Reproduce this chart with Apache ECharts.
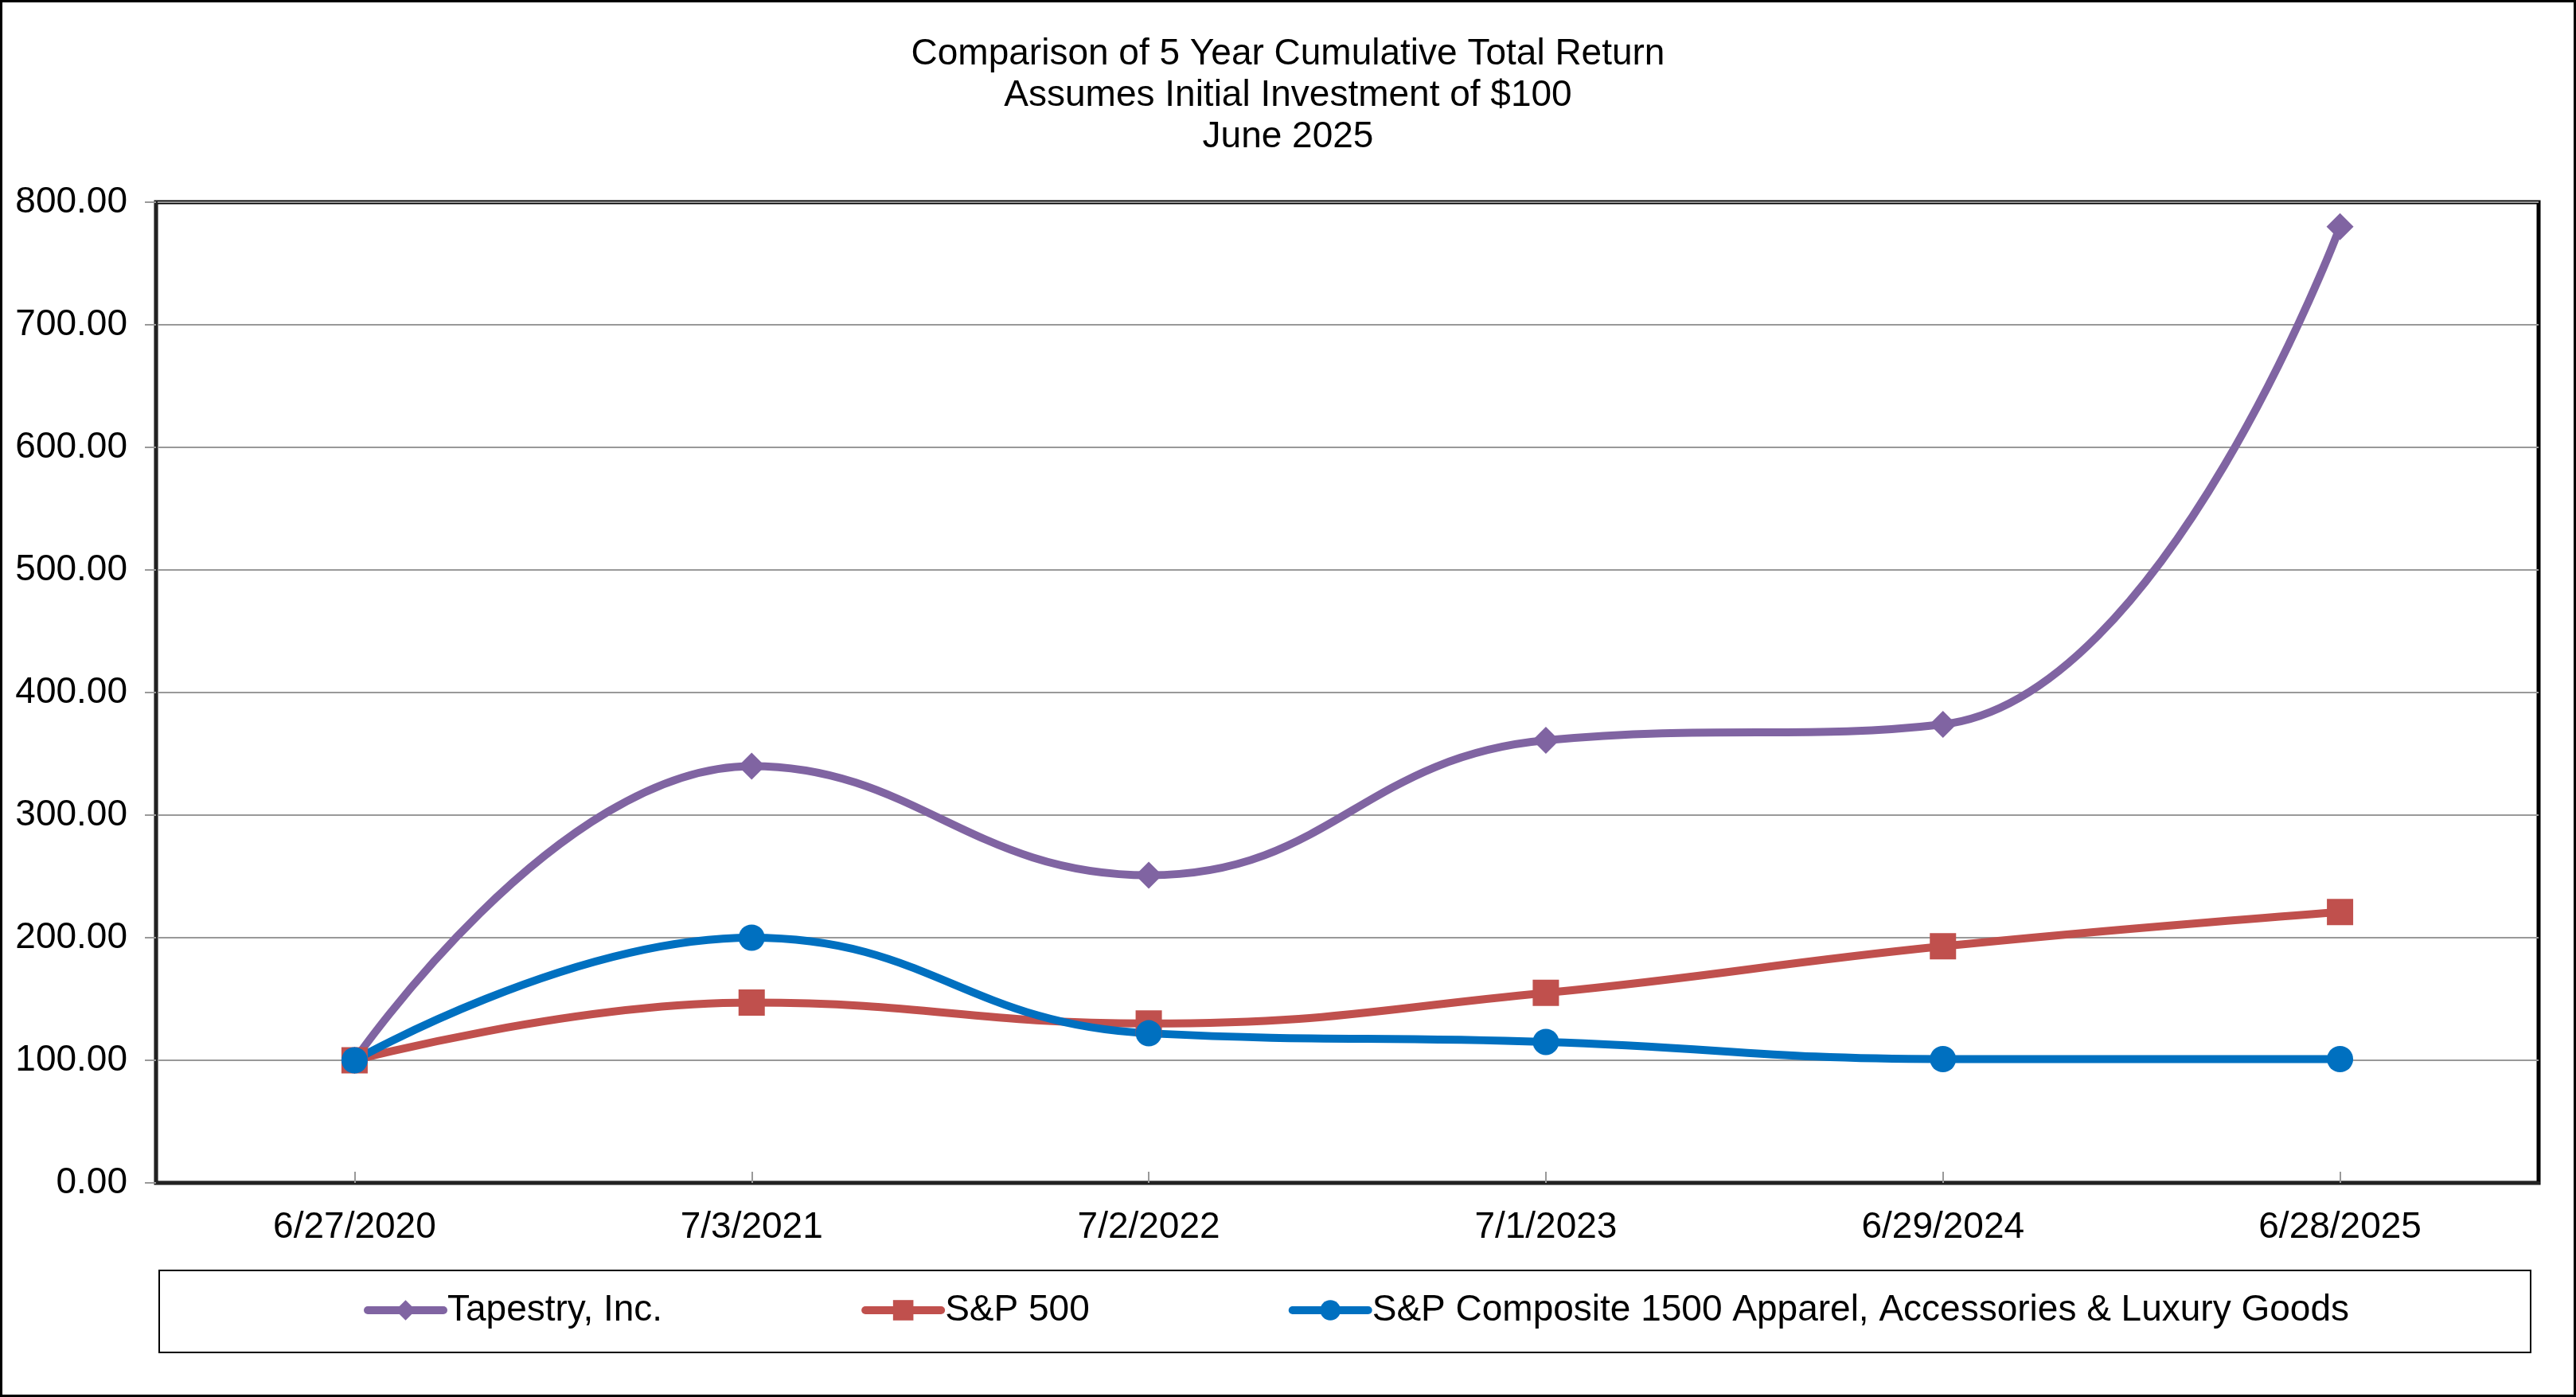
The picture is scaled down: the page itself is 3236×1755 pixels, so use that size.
<!DOCTYPE html>
<html>
<head>
<meta charset="utf-8">
<script src="https://cdn.jsdelivr.net/npm/echarts@6/dist/echarts.min.js"></script>
<style>
html,body{margin:0;padding:0;background:#fff;}
#c{width:3236px;height:1755px;}
</style>
</head>
<body>
<div id="c"></div>
<script>
const categories = ['6/27/2020', '7/3/2021', '7/2/2022', '7/1/2023', '6/29/2024', '6/28/2025'];
const tapestry = [100, 340, 251, 361, 374, 780];
const sp500 = [100, 147, 130, 155, 193, 221];
const apparel = [100, 200, 122, 115, 101, 101];
const seriesNames = ['Tapestry, Inc.', 'S&P 500', 'S&P Composite 1500 Apparel, Accessories & Luxury Goods'];
const titleLines = ['Comparison of 5 Year Cumulative Total Return', 'Assumes Initial Investment of $100', 'June 2025'];

const FONT = 'Liberation Sans, Arial, sans-serif';
const chart = echarts.init(document.getElementById('c'), null, {renderer: 'canvas'});

function lineSeries(name, data, color, symbol, size) {
  return {
    name: name, type: 'line', data: data, smooth: 0.45,
    symbol: symbol, symbolSize: size,
    lineStyle: {color: color, width: 10},
    itemStyle: {color: color},
    emphasis: {disabled: true},
    z: 3
  };
}

chart.setOption({
  animation: false,
  backgroundColor: '#fff',
  title: {
    text: titleLines.join('\n'),
    left: 'center', top: 37,
    textStyle: {fontFamily: FONT, fontSize: 46, fontWeight: 'normal', color: '#000', lineHeight: 52}
  },
  graphic: [
    {type: 'rect', shape: {x: 1.5, y: 1.5, width: 3233, height: 1752}, style: {fill: 'none', stroke: '#000', lineWidth: 3}, silent: true},
    {type: 'rect', shape: {x: 200, y: 1596, width: 2979, height: 103}, style: {fill: 'none', stroke: '#000', lineWidth: 2}, silent: true}
  ],
  legend: {
    left: 452, top: 1618,
    itemGap: 250, itemWidth: 95, itemHeight: 32,
    lineStyle: {width: 10, cap: 'round'},
    textStyle: {fontFamily: FONT, fontSize: 46, color: '#000'},
    data: seriesNames
  },
  grid: {
    left: 196, right: 47, top: 254, bottom: 269,
    show: true, borderColor: '#000', borderWidth: 5, backgroundColor: 'transparent'
  },
  xAxis: {
    type: 'category', data: categories, boundaryGap: true,
    axisLine: {lineStyle: {color: '#222', width: 4}},
    axisTick: {show: true, inside: true, alignWithLabel: true, length: 14, lineStyle: {color: '#999', width: 2}},
    axisLabel: {fontFamily: FONT, fontSize: 46, color: '#000', margin: 33},
    splitLine: {show: false}
  },
  yAxis: {
    type: 'value', min: 0, max: 800, interval: 100,
    axisLine: {show: true, lineStyle: {color: '#222', width: 4}},
    axisTick: {show: true, length: 14, lineStyle: {color: '#999', width: 2}},
    axisLabel: {fontFamily: FONT, fontSize: 46, color: '#000', margin: 36, formatter: v => v.toFixed(2)},
    splitLine: {show: true, lineStyle: {color: '#999', width: 2}}
  },
  series: [
    lineSeries(seriesNames[0], tapestry, '#8064A2', 'diamond', 34),
    lineSeries(seriesNames[1], sp500, '#C0504D', 'rect', 33),
    lineSeries(seriesNames[2], apparel, '#0070C0', 'circle', 33)
  ]
});
</script>
</body>
</html>
